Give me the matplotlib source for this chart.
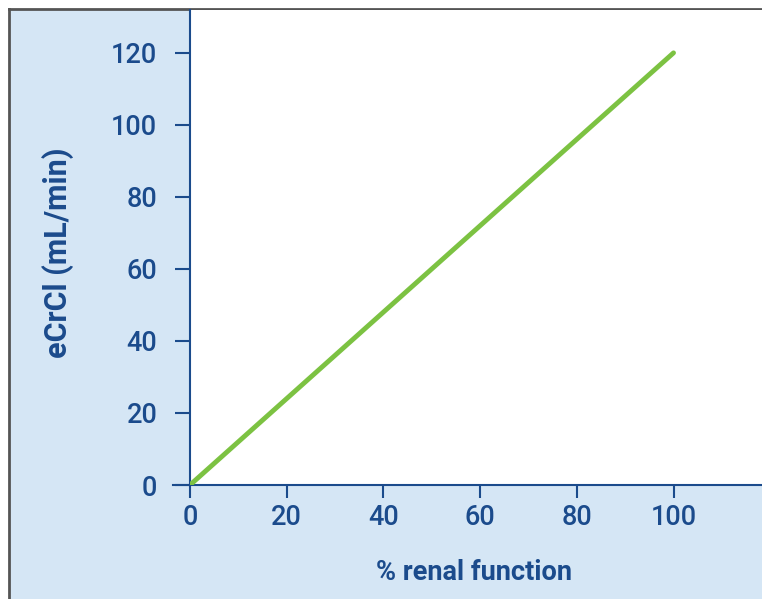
import matplotlib
matplotlib.use("Agg")
import matplotlib.pyplot as plt
from matplotlib.patches import Rectangle

# data: eCrCl rises linearly with % renal function
renal_pct = [0, 100]
ecrcl = [0, 120]
x_ticks = [0, 20, 40, 60, 80, 100]
y_ticks = [0, 20, 40, 60, 80, 100, 120]

NAVY = "#1b4b8c"
BG = "#d5e6f5"
GREEN = "#7cc242"

plt.rcParams["font.family"] = ["Roboto", "DejaVu Sans"]

fig = plt.figure(figsize=(7.62, 5.99), dpi=100)
fig.patch.set_facecolor("white")
# light blue panel with a grey frame on top/left (behind the axes)
fig.add_artist(Rectangle((9 / 762, 0), 1, 1 - 9 / 599, transform=fig.transFigure,
                         facecolor=BG, edgecolor="none", zorder=-10))
fig.add_artist(plt.Line2D([9 / 762, 1], [1 - 9 / 599, 1 - 9 / 599], color="#555555",
                          linewidth=2, transform=fig.transFigure, zorder=-5))
fig.add_artist(plt.Line2D([9 / 762, 9 / 762], [0, 1 - 9 / 599], color="#555555",
                          linewidth=2, transform=fig.transFigure, zorder=-5))

ax = fig.add_axes([190 / 762, 1 - 485 / 599, (762 - 190) / 762, (485 - 10) / 599])
ax.set_facecolor("white")
ax.plot(renal_pct, ecrcl, color=GREEN, linewidth=3.5, solid_capstyle="round", zorder=3)

ax.set_xlim(0, 118.3)
ax.set_ylim(0, 131.9)
ax.set_xticks(x_ticks)
ax.set_yticks(y_ticks)

for side in ["top", "right"]:
    ax.spines[side].set_visible(False)
for side in ["left", "bottom"]:
    ax.spines[side].set_color(NAVY)
    ax.spines[side].set_linewidth(1.5)
# bottom axis line sticks out a little past the y axis
ax.axhline(0, xmin=-0.03, xmax=0, color=NAVY, linewidth=1.5, clip_on=False)

ax.tick_params(colors=NAVY, width=1.5, labelsize=19.5)
ax.tick_params(axis="x", length=9.5, pad=4)
ax.tick_params(axis="y", length=10.5, pad=13)
for lab in ax.get_xticklabels() + ax.get_yticklabels():
    lab.set_fontweight("medium")
    lab.set_color(NAVY)

ax.set_xlabel("% renal function", color=NAVY, fontsize=19.5, fontweight="bold")
ax.set_ylabel("eCrCl (mL/min)", color=NAVY, fontsize=22, fontweight="bold")
ax.xaxis.label.set(ha="center", va="center")
ax.yaxis.label.set(ha="center", va="center")
ax.xaxis.set_label_coords(0.497, -0.185)
ax.yaxis.set_label_coords(-0.231, 0.488)

fig.savefig("out.png", dpi=100, facecolor=fig.get_facecolor())
